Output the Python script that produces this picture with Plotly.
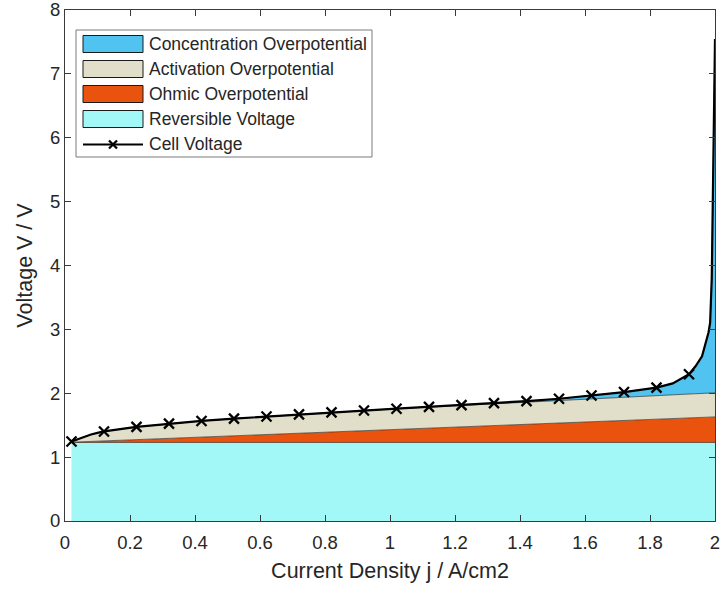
import plotly.graph_objects as go

# ---------------- data ----------------
current_density = [0.02, 0.04, 0.06, 0.08, 0.10, 0.12,
                   0.22, 0.32, 0.42, 0.52, 0.62, 0.72, 0.82, 0.92, 1.02,
                   1.12, 1.22, 1.32, 1.42, 1.52, 1.62, 1.72, 1.82, 1.87, 1.92,
                   1.94, 1.96, 1.97, 1.98, 1.985, 1.99, 2.00]

reversible_voltage = [1.23] * 32

ohmic_overpotential = [0.004, 0.008, 0.012, 0.016, 0.020, 0.024,
                       0.044, 0.064, 0.084, 0.104, 0.124, 0.144, 0.164, 0.184, 0.204,
                       0.224, 0.244, 0.264, 0.284, 0.304, 0.324, 0.344, 0.364, 0.374, 0.384,
                       0.388, 0.392, 0.394, 0.396, 0.397, 0.398, 0.400]

activation_overpotential = [0.010, 0.045, 0.080, 0.108, 0.130, 0.148,
                            0.200, 0.230, 0.252, 0.269, 0.283, 0.295, 0.306, 0.315, 0.323,
                            0.330, 0.337, 0.344, 0.349, 0.355, 0.360, 0.365, 0.369, 0.371, 0.374,
                            0.374, 0.375, 0.376, 0.376, 0.376, 0.377, 0.377]

concentration_overpotential = [0.0, 0.0, 0.0, 0.0, 0.0, 0.0,
                               0.0, 0.0, 0.0, 0.0, 0.0, 0.0, 0.0, 0.0, 0.001,
                               0.002, 0.004, 0.008, 0.014, 0.025, 0.050, 0.080, 0.125, 0.180, 0.310,
                               0.430, 0.580, 0.750, 0.950, 1.100, 1.790, 5.540]

x_tick_values = [0, 0.2, 0.4, 0.6, 0.8, 1.0, 1.2, 1.4, 1.6, 1.8, 2.0]
x_tick_labels = ["0", "0.2", "0.4", "0.6", "0.8", "1", "1.2", "1.4", "1.6", "1.8", "2"]
y_tick_values = [0, 1, 2, 3, 4, 5, 6, 7, 8]
y_tick_labels = ["0", "1", "2", "3", "4", "5", "6", "7", "8"]

legend_labels = ["Concentration Overpotential", "Activation Overpotential",
                 "Ohmic Overpotential", "Reversible Voltage", "Cell Voltage"]

# ---------------- derived stacks ----------------
n = len(current_density)
level1 = [reversible_voltage[i] for i in range(n)]
level2 = [level1[i] + ohmic_overpotential[i] for i in range(n)]
level3 = [level2[i] + activation_overpotential[i] for i in range(n)]
cell_voltage = [level3[i] + concentration_overpotential[i] for i in range(n)]

is_marker = [(round(current_density[i] * 100) - 2) % 10 == 0 and current_density[i] < 1.95
             for i in range(n)]
marker_x = [current_density[i] for i in range(n) if is_marker[i]]
marker_y = [cell_voltage[i] for i in range(n) if is_marker[i]]

# ---------------- style ----------------
C_REV = "#A2F8F6"
C_OHM = "#E9530E"
C_ACT = "#E1DFC9"
C_CON = "#50C3F0"
EDGE = "#1a1a1a"
AX = "#3a3a3a"
TXT = "#262626"
FONT = "Liberation Sans, Arial, sans-serif"

fig = go.Figure()
fig.add_trace(go.Scatter(x=current_density, y=level1, mode="lines", fill="tozeroy",
                         fillcolor=C_REV, line=dict(color=EDGE, width=0.6), hoverinfo="skip"))
fig.add_trace(go.Scatter(x=current_density, y=level2, mode="lines", fill="tonexty",
                         fillcolor=C_OHM, line=dict(color=EDGE, width=0.6), hoverinfo="skip"))
fig.add_trace(go.Scatter(x=current_density, y=level3, mode="lines", fill="tonexty",
                         fillcolor=C_ACT, line=dict(color=EDGE, width=0.6), hoverinfo="skip"))
fig.add_trace(go.Scatter(x=current_density, y=cell_voltage, mode="lines", fill="tonexty",
                         fillcolor=C_CON, line=dict(color=EDGE, width=0.6), hoverinfo="skip"))
fig.add_trace(go.Scatter(x=current_density, y=cell_voltage, mode="lines",
                         line=dict(color="black", width=2.2)))
fig.add_trace(go.Scatter(x=marker_x, y=marker_y, mode="markers",
                         marker=dict(symbol="x-thin", size=10, color="black",
                                     line=dict(color="black", width=2.3))))

# ---------------- custom legend (MATLAB style) ----------------
L, R, T, B = 65, 715, 10, 521


def px(x):
    return (x - L) / (R - L)


def py(y):
    return (B - y) / (B - T)


shapes = []
annotations = []
shapes.append(dict(type="rect", xref="paper", yref="paper",
                   x0=px(76), x1=px(372), y0=py(157), y1=py(30),
                   fillcolor="white", line=dict(color="#7a7a7a", width=1)))
swatch_colors = [C_CON, C_ACT, C_OHM, C_REV]
row_centers = [44, 69, 94, 119, 144.5]
for k, col in enumerate(swatch_colors):
    yc = row_centers[k]
    shapes.append(dict(type="rect", xref="paper", yref="paper",
                       x0=px(83), x1=px(143), y0=py(yc + 8.5), y1=py(yc - 8.5),
                       fillcolor=col, line=dict(color=EDGE, width=1)))
yc = row_centers[4]
shapes.append(dict(type="line", xref="paper", yref="paper",
                   x0=px(83), x1=px(143), y0=py(yc), y1=py(yc),
                   line=dict(color="black", width=2.2)))
shapes.append(dict(type="line", xref="paper", yref="paper",
                   x0=px(109), x1=px(117), y0=py(yc - 4), y1=py(yc + 4),
                   line=dict(color="black", width=2.3)))
shapes.append(dict(type="line", xref="paper", yref="paper",
                   x0=px(109), x1=px(117), y0=py(yc + 4), y1=py(yc - 4),
                   line=dict(color="black", width=2.3)))
for k, lab in enumerate(legend_labels):
    annotations.append(dict(text=lab, xref="paper", yref="paper",
                            x=px(147), y=py(row_centers[k]), xanchor="left", yanchor="middle",
                            showarrow=False, font=dict(family=FONT, size=17.5, color=TXT)))

fig.update_layout(
    width=720, height=591,
    margin=dict(l=65, r=5, t=10, b=70),
    paper_bgcolor="white", plot_bgcolor="white",
    showlegend=False,
    font=dict(family=FONT, color=TXT),
    shapes=shapes, annotations=annotations,
    xaxis=dict(range=[0, 2], tickvals=x_tick_values, ticktext=x_tick_labels,
               automargin=False,
               showgrid=False, zeroline=False, showline=True, mirror="ticks",
               linecolor=AX, linewidth=1, ticks="inside", ticklen=6, tickcolor=AX,
               ticklabelstandoff=5, ticklabeloverflow="allow",
               tickfont=dict(size=18.5, color=TXT),
               title=dict(text="Current Density j / A/cm2", font=dict(size=21.5, color=TXT),
                          standoff=10)),
    yaxis=dict(range=[0, 8], tickvals=y_tick_values, ticktext=y_tick_labels,
               automargin=False,
               showgrid=False, zeroline=False, showline=True, mirror="ticks",
               linecolor=AX, linewidth=1, ticks="inside", ticklen=6, tickcolor=AX,
               ticklabeloverflow="allow",
               tickfont=dict(size=18.5, color=TXT),
               title=dict(text="Voltage V / V", font=dict(size=21.5, color=TXT),
                          standoff=11)),
)

fig.write_html("out.html",
               config={"displayModeBar": False},
               post_script="document.body.style.margin='0px';"
                           "document.documentElement.style.margin='0px';")
